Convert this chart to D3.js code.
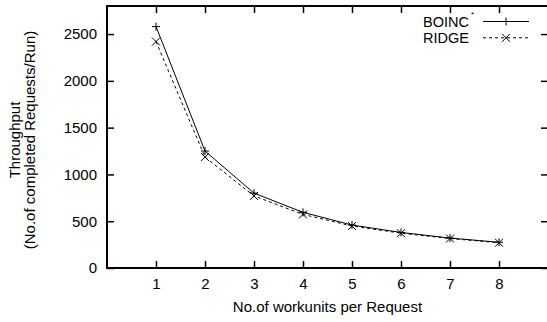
<!DOCTYPE html>
<html>
<head>
<meta charset="utf-8">
<script src="https://cdn.jsdelivr.net/npm/d3@7"></script>
<style>
  body { margin: 0; background: #fff; }
  svg { font-family: "Liberation Sans", Arial, sans-serif; }
</style>
</head>
<body>
<div id="chart"></div>
<script>
// values
const workunits = [1, 2, 3, 4, 5, 6, 7, 8];
const boinc = [2580, 1250, 800, 595, 459, 380, 320, 275];
const ridge = [2420, 1185, 770, 573, 449, 372, 315, 270];
const xTicks = [1, 2, 3, 4, 5, 6, 7, 8];
const yTicks = [0, 500, 1000, 1500, 2000, 2500];

const width = 547, height = 322;
const margin = { top: 6, right: -1, bottom: 54, left: 107 };
const w = width - margin.left - margin.right;
const h = height - margin.top - margin.bottom;

const svg = d3.select("#chart")
  .append("svg")
  .attr("width", width)
  .attr("height", height);

const g = svg.append("g")
  .attr("transform", "translate(" + margin.left + "," + margin.top + ")");

const x = d3.scaleLinear().domain([0, 9]).range([0, w]);
const y = d3.scaleLinear().domain([0, 2800]).range([h, 0]);

// axes, ticks pointing inward on all four sides
function styleAxis(sel) {
  sel.select(".domain").remove();
  sel.selectAll(".tick line").attr("stroke", "#000").attr("stroke-width", 1.5);
  sel.selectAll(".tick text").attr("fill", "#000").style("font-size", "15px");
}

g.append("g")
  .attr("transform", "translate(0," + h + ")")
  .call(d3.axisBottom(x).tickValues(xTicks).tickSizeInner(-7).tickSizeOuter(0).tickPadding(10).tickFormat(d3.format("d")))
  .call(styleAxis);

g.append("g")
  .call(d3.axisTop(x).tickValues(xTicks).tickSizeInner(-7).tickSizeOuter(0).tickFormat(""))
  .call(styleAxis);

g.append("g")
  .call(d3.axisLeft(y).tickValues(yTicks).tickSizeInner(-7).tickSizeOuter(0).tickPadding(10).tickFormat(d3.format("d")))
  .call(styleAxis);

g.append("g")
  .attr("transform", "translate(" + w + ",0)")
  .call(d3.axisRight(y).tickValues(yTicks).tickSizeInner(-7).tickSizeOuter(0).tickFormat(""))
  .call(styleAxis);

// frame
g.append("rect")
  .attr("x", 0).attr("y", 0)
  .attr("width", w).attr("height", h)
  .attr("fill", "none")
  .attr("stroke", "#000")
  .attr("stroke-width", 2);

// lines
const line = d3.line()
  .x((d, i) => x(workunits[i]))
  .y(d => y(d));

g.append("path")
  .datum(boinc)
  .attr("d", line)
  .attr("fill", "none")
  .attr("stroke", "#000")
  .attr("stroke-width", 1);

g.append("path")
  .datum(ridge)
  .attr("d", line)
  .attr("fill", "none")
  .attr("stroke", "#000")
  .attr("stroke-width", 1)
  .attr("stroke-dasharray", "3,3");

// markers
const s = 4;
function plus(sel) {
  sel.append("path")
    .attr("d", "M" + (-s) + ",0H" + s + "M0," + (-s) + "V" + s)
    .attr("stroke", "#000").attr("stroke-width", 1);
}
function cross(sel) {
  sel.append("path")
    .attr("d", "M" + (-s) + "," + (-s) + "L" + s + "," + s + "M" + (-s) + "," + s + "L" + s + "," + (-s))
    .attr("stroke", "#000").attr("stroke-width", 1);
}

g.append("g").selectAll("g")
  .data(boinc)
  .enter().append("g")
  .attr("transform", (d, i) => "translate(" + x(workunits[i]) + "," + y(d) + ")")
  .each(function () { plus(d3.select(this)); });

g.append("g").selectAll("g")
  .data(ridge)
  .enter().append("g")
  .attr("transform", (d, i) => "translate(" + x(workunits[i]) + "," + y(d) + ")")
  .each(function () { cross(d3.select(this)); });

// legend
const legend = g.append("g");
const lx1 = 376, lx2 = 422, ltext = 362;

const l1 = legend.append("g").attr("transform", "translate(0,15.5)");
l1.append("text")
  .attr("x", ltext).attr("y", 0).attr("dy", "0.35em")
  .attr("text-anchor", "end")
  .style("font-size", "14.5px")
  .text("BOINC");
l1.append("text")
  .attr("x", ltext + 2).attr("y", -4.5)
  .style("font-size", "8px")
  .text("*");
l1.append("line")
  .attr("x1", lx1).attr("x2", lx2)
  .attr("stroke", "#000").attr("stroke-width", 1);
l1.append("g").attr("transform", "translate(" + (lx1 + lx2) / 2 + ",0)").call(plus);

const l2 = legend.append("g").attr("transform", "translate(0,31.8)");
l2.append("text")
  .attr("x", ltext).attr("y", 0).attr("dy", "0.35em")
  .attr("text-anchor", "end")
  .style("font-size", "14.5px")
  .text("RIDGE");
l2.append("line")
  .attr("x1", lx1).attr("x2", lx2)
  .attr("stroke", "#000").attr("stroke-width", 1)
  .attr("stroke-dasharray", "3,3");
l2.append("g").attr("transform", "translate(" + (lx1 + lx2) / 2 + ",0)").call(cross);

// axis titles
svg.append("text")
  .attr("x", margin.left + x(4.5))
  .attr("y", 312)
  .attr("text-anchor", "middle")
  .style("font-size", "15px")
  .text("No.of workunits per Request");

const yt = svg.append("text")
  .attr("transform", "translate(20,140) rotate(-90)")
  .attr("text-anchor", "middle")
  .style("font-size", "15px");
yt.append("tspan").attr("x", 0).attr("y", 0).text("Throughput");
yt.append("tspan").attr("x", 0).attr("y", 15).text("(No.of completed Requests/Run)");
</script>
</body>
</html>
